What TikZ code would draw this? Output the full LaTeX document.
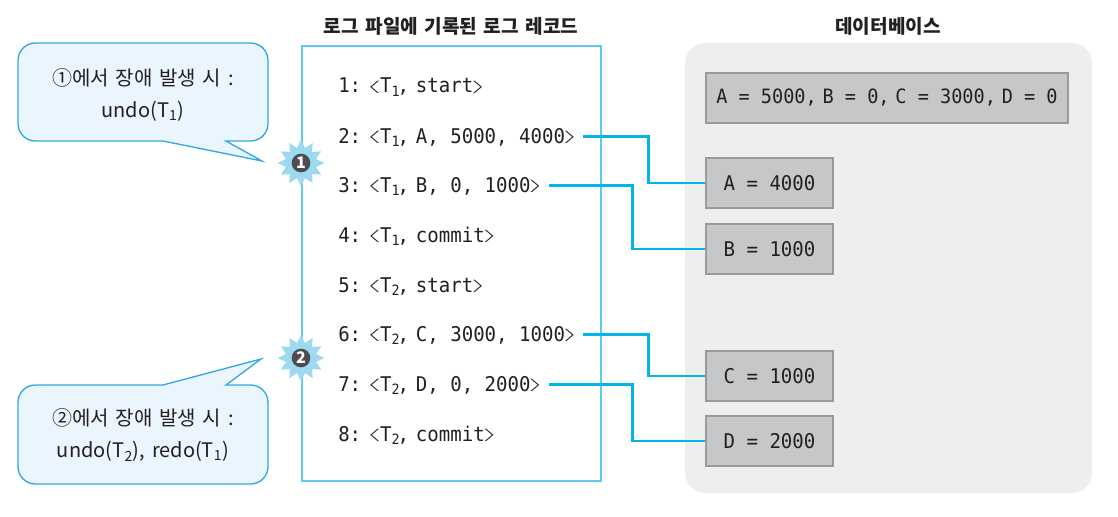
\documentclass[tikz,border=0pt]{standalone}
\usepackage{graphicx}
\usepackage{fontspec}
\setmainfont[WordSpace=1.5]{Noto Sans CJK KR}
\setmonofont[FakeStretch=0.94]{DejaVu Sans Mono}
\usetikzlibrary{shapes.geometric}
\definecolor{calloutline}{HTML}{2FA9E4}
\definecolor{calloutfill}{HTML}{EBF5FD}
\definecolor{logline}{HTML}{5CCBEF}
\definecolor{wireblue}{HTML}{00B5EC}
\definecolor{dbfill}{HTML}{EEEEEE}
\definecolor{cellfill}{HTML}{C6C7C9}
\definecolor{cellline}{HTML}{999A9C}
\definecolor{burstfill}{HTML}{9ED9F2}
\definecolor{dotfill}{HTML}{4D4D4F}
\definecolor{inkdark}{HTML}{231F20}
\newcommand{\recopen}{\kern-4.9pt\raisebox{2pt}{\scalebox{2}[0.65]{$\langle$}}\kern-0.7pt\relax}
\newcommand{\recclose}{\kern-1.4pt\raisebox{2pt}{\scalebox{2}[0.65]{$\rangle$}}\kern-2.2pt\relax}
\newcommand{\recT}[1]{T\textsubscript{#1}\kern-2pt,\kern-3.5pt\relax}
\tikzset{
  title/.style={font=\fontsize{14.3}{16}\selectfont\bfseries, text=inkdark},
  record/.style={anchor=base west, inner sep=0pt, font=\fontsize{15.2}{16}\ttfamily, text=inkdark},
  cell/.style={draw=cellline, fill=cellfill, line width=1.5pt, inner sep=0pt, font=\fontsize{15.2}{16}\ttfamily, text=inkdark},
  wire/.style={draw=wireblue, line width=2pt},
  callout/.style={draw=calloutline, fill=calloutfill, line width=1pt},
  callouttext/.style={align=center, font=\fontsize{15}{24}\selectfont, text=inkdark},
  burst/.style={star, star points=12, star point ratio=1.5, fill=burstfill, inner sep=0pt, minimum size=35pt},
  numdot/.style={circle, fill=dotfill, text=white, inner sep=0pt, minimum size=14pt, font=\fontsize{12}{12}\selectfont\bfseries}
}
\begin{document}
\begin{tikzpicture}[x=0.75pt,y=-0.75pt]
        \useasboundingbox (0,0) rectangle (1118,517);

        % Titles
        \node[title] (logtitle) at (451,26) {로그 파일에 기록된 로그 레코드};
        \node[title] (dbtitle) at (888,26) {데이터베이스};

        % Database panel
        \fill[dbfill, rounded corners=15pt] (685,43) rectangle (1092,493);
        \node[cell, font=\fontsize{14.8}{16}\ttfamily, minimum width=271pt, minimum height=37pt] (boxall) at (887,98) {A = 5000,\kern-4pt\relax{} B = 0,\kern-4pt\relax{} C = 3000,\kern-4pt\relax{} D = 0};
        \node[cell, minimum width=95pt, minimum height=37pt] (boxA) at (769.5,183) {A = 4000};
        \node[cell, minimum width=95pt, minimum height=37pt] (boxB) at (769.5,249) {B = 1000};
        \node[cell, minimum width=95pt, minimum height=37pt] (boxC) at (769.5,376) {C = 1000};
        \node[cell, minimum width=95pt, minimum height=37pt] (boxD) at (769.5,441) {D = 2000};

        % Log file frame
        \draw[logline, line width=1pt] (302,46) rectangle (601,481);

        % Log records
        \node[record] (rec1) at (338,93) {1: \recopen\recT{1} start\recclose};
        \node[record] (rec2) at (338,143) {2: \recopen\recT{1} A, 5000, 4000\recclose};
        \node[record] (rec3) at (338,192) {3: \recopen\recT{1} B, 0, 1000\recclose};
        \node[record] (rec4) at (338,242) {4: \recopen\recT{1} commit\recclose};
        \node[record] (rec5) at (338,292) {5: \recopen\recT{2} start\recclose};
        \node[record] (rec6) at (338,341) {6: \recopen\recT{2} C, 3000, 1000\recclose};
        \node[record] (rec7) at (338,391) {7: \recopen\recT{2} D, 0, 2000\recclose};
        \node[record] (rec8) at (338,441) {8: \recopen\recT{2} commit\recclose};

        % Records to database values
        \draw[wire] ([xshift=6pt,yshift=5pt]rec2.base east) -- ++(65,0) |- (boxA.west);
        \draw[wire] ([xshift=6.3pt,yshift=5pt]rec3.base east) -- ++(83,0) |- (boxB.west);
        \draw[wire] ([xshift=6pt,yshift=5pt]rec6.base east) -- ++(65,0) |- (boxC.west);
        \draw[wire] ([xshift=6.3pt,yshift=5pt]rec7.base east) -- ++(83,0) |- (boxD.west);

        % Failure points
        \node[burst] (burstA) at (301,163) {};
        \node[numdot] (dotA) at (burstA) {1};
        \node[burst] (burstB) at (301,358) {};
        \node[numdot] (dotB) at (burstB) {2};

        % Callouts
        \draw[callout, rounded corners=13pt] (226,141) -| (268,43) -| (18,141) [sharp corners] -- (163,141) -- (262,161) -- cycle;
        \node[callouttext] (noteA) at (143,95) {①에서 장애 발생 시 :\\undo(T\textsubscript{1})};
        \draw[callout, rounded corners=13pt] (226,385) -| (268,484) -| (18,385) [sharp corners] -- (163,385) -- (261,359) -- cycle;
        \node[callouttext] (noteB) at (143,435) {②에서 장애 발생 시 :\\undo(T\textsubscript{2}), redo(T\textsubscript{1})};
    \end{tikzpicture}
\end{document}
